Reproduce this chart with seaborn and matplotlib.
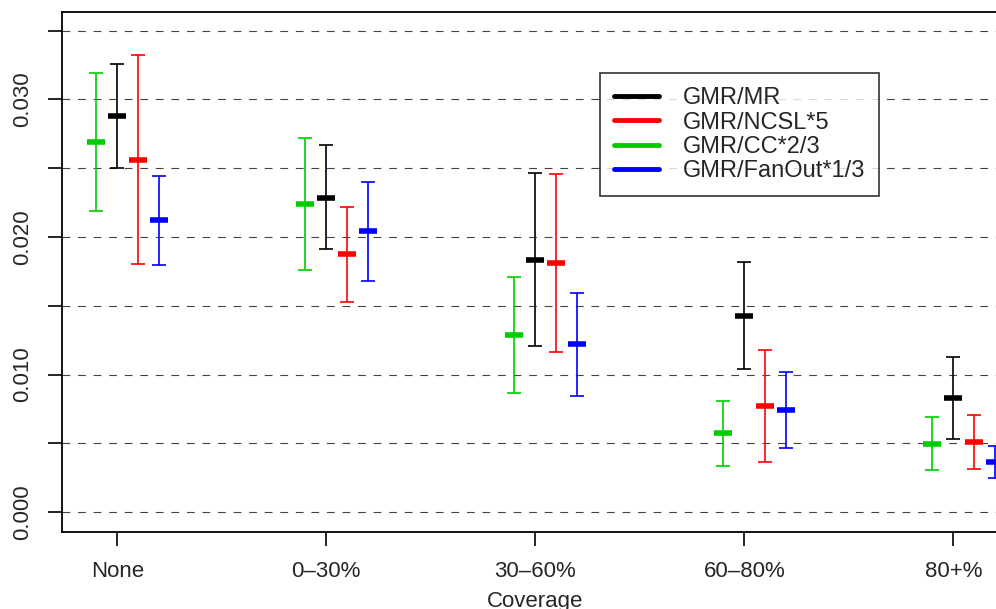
import numpy as np
import pandas as pd
import matplotlib
matplotlib.use("Agg")
import matplotlib.pyplot as plt
import seaborn as sns
from matplotlib.lines import Line2D

coverage = ['None', '0–30%', '30–60%', '60–80%', '80+%']
series = ['GMR/MR', 'GMR/NCSL*5', 'GMR/CC*2/3', 'GMR/FanOut*1/3']

# mean, lower, upper per series
mr_mean = [0.02879, 0.02287, 0.01836, 0.01429, 0.00832]
mr_lo = [0.02501, 0.01911, 0.01208, 0.01041, 0.00533]
mr_hi = [0.03256, 0.02666, 0.02462, 0.01817, 0.01128]

ncsl_mean = [0.02562, 0.01873, 0.01809, 0.00771, 0.00507]
ncsl_lo = [0.01807, 0.01531, 0.01162, 0.00364, 0.00310]
ncsl_hi = [0.03321, 0.02215, 0.02457, 0.01179, 0.00703]

cc_mean = [0.02689, 0.02242, 0.01288, 0.00575, 0.00497]
cc_lo = [0.02186, 0.01763, 0.00868, 0.00337, 0.00308]
cc_hi = [0.03192, 0.02717, 0.01707, 0.00810, 0.00689]

fan_mean = [0.02122, 0.02040, 0.01220, 0.00745, 0.00361]
fan_lo = [0.01800, 0.01683, 0.00844, 0.00468, 0.00245]
fan_hi = [0.02443, 0.02399, 0.01596, 0.01021, 0.00480]

colors = {'GMR/MR': 'black', 'GMR/NCSL*5': '#FF0000',
          'GMR/CC*2/3': '#00CD00', 'GMR/FanOut*1/3': '#0000FF'}
offsets = {'GMR/CC*2/3': -0.1, 'GMR/MR': 0.0,
           'GMR/NCSL*5': 0.1, 'GMR/FanOut*1/3': 0.2}

rows = []
for name, m, lo, hi in [('GMR/MR', mr_mean, mr_lo, mr_hi),
                        ('GMR/NCSL*5', ncsl_mean, ncsl_lo, ncsl_hi),
                        ('GMR/CC*2/3', cc_mean, cc_lo, cc_hi),
                        ('GMR/FanOut*1/3', fan_mean, fan_lo, fan_hi)]:
    for i, cov in enumerate(coverage):
        rows.append({'Coverage': cov, 'series': name, 'x': i + offsets[name],
                     'mean': m[i], 'lo': lo[i], 'hi': hi[i]})
df = pd.DataFrame(rows)

sns.set_style("ticks")
plt.rcParams['font.family'] = ['Liberation Sans', 'DejaVu Sans']

fig = plt.figure(figsize=(9.96, 6.09), dpi=100)
ax = fig.add_axes([62 / 996, 77 / 609, 946.6 / 996, 520 / 609])

# dashed grid
for yv in np.arange(0, 0.0351, 0.005):
    ax.axhline(yv, color='#444444', lw=0.8, ls=(0, (7, 7)), zorder=0)

# error bars
for name in series:
    d = df[df['series'] == name]
    ax.errorbar(d['x'], d['mean'],
                yerr=[d['mean'] - d['lo'], d['hi'] - d['mean']],
                fmt='none', ecolor=colors[name], elinewidth=1.2,
                capsize=5, capthick=1.2, zorder=2)

# means
sns.scatterplot(data=df, x='x', y='mean', hue='series', palette=colors,
                marker='_', s=170, linewidth=4, legend=False, ax=ax, zorder=3)

ax.set_xlim(-0.2646, 4.2646)
ax.set_ylim(-0.00145, 0.03636)

ax.set_xticks(range(len(coverage)))
ax.set_xticklabels(coverage, fontsize=16)
yt = np.arange(0, 0.0351, 0.005)
ax.set_yticks(yt)
ax.set_yticklabels(['%.3f' % v if i % 2 == 0 else '' for i, v in enumerate(yt)],
                   fontsize=16, rotation=90, va='center')
ax.tick_params(axis='both', length=10, width=1.2, color='black')
ax.tick_params(axis='x', pad=11)
ax.tick_params(axis='y', pad=11)

ax.set_xlabel('Coverage', fontsize=16, labelpad=6)
ax.set_ylabel('')

for s in ['left', 'bottom', 'top', 'right']:
    ax.spines[s].set_color('black')
    ax.spines[s].set_linewidth(1.3)

handles = [Line2D([0], [0], color=colors[n], lw=3.5) for n in series]
leg = fig.legend(handles, series, loc='upper left',
                 bbox_to_anchor=(600 / 996, 1 - 73 / 609),
                 fontsize=17, frameon=True, fancybox=False,
                 handlelength=1.9, handletextpad=1.0, labelspacing=0.1,
                 borderpad=0.6, borderaxespad=0)
leg.get_frame().set_edgecolor('black')
leg.get_frame().set_linewidth(1.2)

fig.savefig('out.png', dpi=100)
